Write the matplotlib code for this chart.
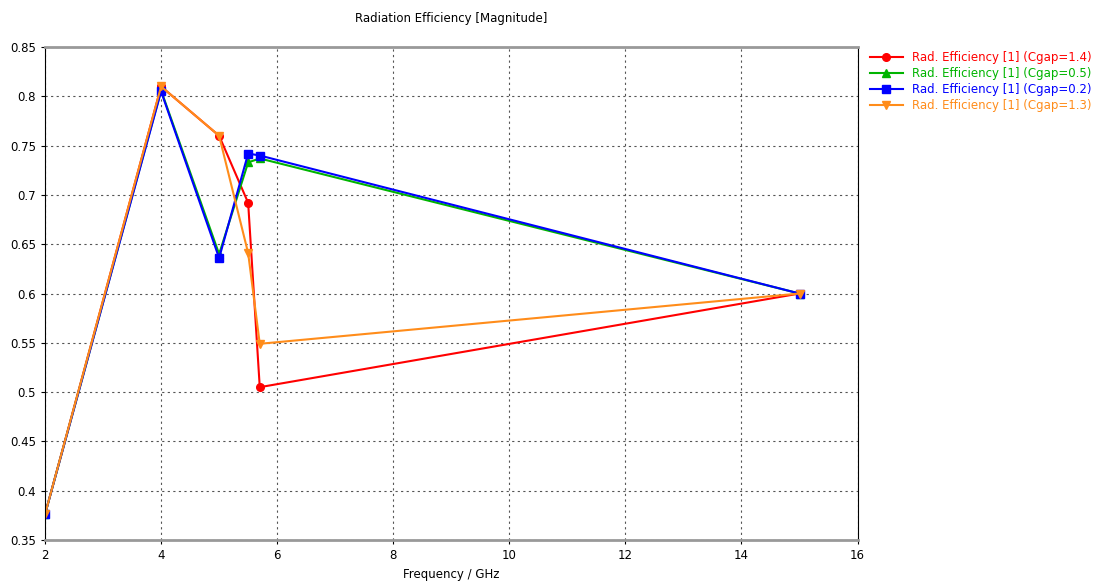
import matplotlib
matplotlib.use("Agg")
import matplotlib.pyplot as plt

freq = [2, 4, 5, 5.5, 5.7, 15]
eff_14 = [0.376, 0.810, 0.760, 0.692, 0.505, 0.600]
eff_05 = [0.376, 0.806, 0.640, 0.733, 0.737, 0.600]
eff_02 = [0.376, 0.805, 0.636, 0.742, 0.740, 0.600]
eff_13 = [0.376, 0.810, 0.760, 0.641, 0.549, 0.600]

labels = ["Rad. Efficiency [1] (Cgap=1.4)", "Rad. Efficiency [1] (Cgap=0.5)",
          "Rad. Efficiency [1] (Cgap=0.2)", "Rad. Efficiency [1] (Cgap=1.3)"]
colors = ["#ff0000", "#00b400", "#0000ff", "#ff8c1a"]
markers = ["o", "^", "s", "v"]

fig = plt.figure(figsize=(10.98, 5.81), dpi=100)
ax = fig.add_axes([0.041, 0.0706, 0.740, 0.8484])

for ys, lab, c, m in zip([eff_14, eff_05, eff_02, eff_13], labels, colors, markers):
    ax.plot(freq, ys, color=c, marker=m, markersize=5.5, linewidth=1.5, label=lab)

ax.set_xlim(2, 16)
ax.set_ylim(0.35, 0.85)
ax.set_xticks(range(2, 17, 2))
ax.set_yticks([0.35, 0.4, 0.45, 0.5, 0.55, 0.6, 0.65, 0.7, 0.75, 0.8, 0.85])
ax.set_yticklabels(["0.35", "0.4", "0.45", "0.5", "0.55", "0.6", "0.65", "0.7", "0.75", "0.8", "0.85"])
ax.tick_params(labelsize=8.5, length=3)
ax.grid(True, color="#555555", linestyle=(0, (2, 3)), linewidth=0.8)
for s in ["top", "bottom"]:
    ax.spines[s].set_color("#999999")
    ax.spines[s].set_linewidth(2)
for s in ["left", "right"]:
    ax.spines[s].set_linewidth(0.8)

ax.set_xlabel("Frequency / GHz", fontsize=8.5, labelpad=4)
ax.set_title("Radiation Efficiency [Magnitude]", fontsize=8.5, pad=18)

leg = ax.legend(loc="upper left", bbox_to_anchor=(1.005, 1.008), frameon=False,
                fontsize=8.5, handlelength=2.8, labelspacing=0.25, borderaxespad=0.3)
for t, c in zip(leg.get_texts(), colors):
    t.set_color(c)

fig.savefig("out.png", dpi=100)
